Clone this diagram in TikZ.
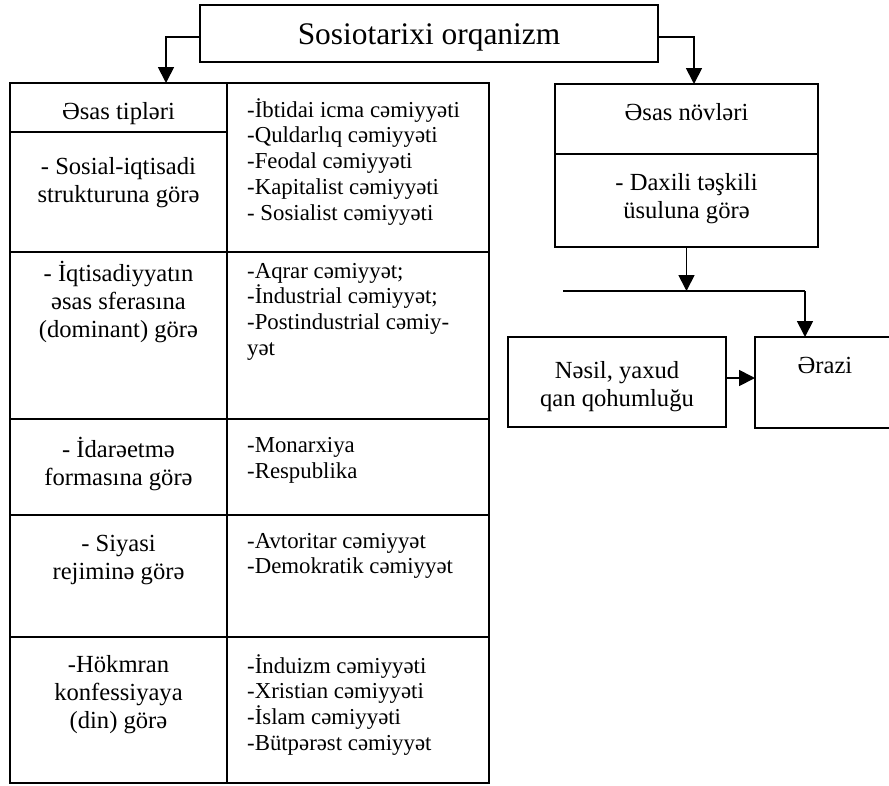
\documentclass[tikz,border=0pt]{standalone}
\usepackage{fontspec}
\setmainfont{Liberation Serif}
\usetikzlibrary{arrows.meta}
\newcommand\fs{\rule{0pt}{0.95em}}
\begin{document}
\begin{tikzpicture}[x=1pt,y=-1pt,
  lw/.style={line width=1.8pt},
  boxnode/.style={draw, lw, inner sep=0pt, outer sep=0pt},
  arr/.style={lw, -{Triangle[length=16pt,width=16pt]}},
  lt/.style={font=\fontsize{24.6}{28}\selectfont, align=center, inner sep=0pt},
  li/.style={font=\fontsize{22.8}{25.7}\selectfont, align=left, inner sep=0pt, anchor=north west},
  tt/.style={font=\fontsize{31.4}{36}\selectfont, inner sep=0pt, anchor=base}]
\path[use as bounding box] (0,0) rectangle (889,785);
\fill[white] (0,0) rectangle (889,785);
\clip (0,0) rectangle (889,785);

% title
\node[boxnode, minimum width=458pt, minimum height=57pt] (title) at (429,33.5) {};
\node[tt] (titletext) at (429,44) {Sosiotarixi orqanizm};

% table
\node[boxnode, minimum width=479pt, minimum height=700pt] (tbl) at (249.5,433) {};
\draw[line width=2.6pt] (227,83) -- (227,783);
\draw[lw] (10,132) -- (227,132);
\foreach \yy in {252,419,515,637} \draw[lw] (10,\yy) -- (489,\yy);

% left column texts
\node[lt, anchor=base] (hdr) at (118.5,119) {Əsas tipləri};
\node[lt, anchor=north] (l1) at (118.5,150.8) {\fs- Sosial-iqtisadi\\strukturuna görə};
\node[lt, anchor=north] (l2) at (118.5,257.5) {\fs- İqtisadiyyatın\\əsas sferasına\\(dominant) görə};
\node[lt, anchor=north] (l3) at (118.5,434) {\fs- İdarəetmə\\formasına görə};
\node[lt, anchor=north] (l4) at (118.5,527.5) {\fs- Siyasi\\rejiminə görə};
\node[lt, anchor=north] (l5) at (118.5,649) {\fs-Hökmran\\konfessiyaya\\(din) görə};

% right column lists
\node[li] (r1) at (247,95.4) {\fs-İbtidai icma cəmiyyəti\\-Quldarlıq cəmiyyəti\\-Feodal cəmiyyəti\\-Kapitalist cəmiyyəti\\- Sosialist cəmiyyəti};
\node[li] (r2) at (247,256.4) {\fs-Aqrar cəmiyyət;\\-İndustrial cəmiyyət;\\-Postindustrial cəmiy-\\yət};
\node[li] (r3) at (247,430.5) {\fs-Monarxiya\\-Respublika};
\node[li] (r4) at (247,526.4) {\fs-Avtoritar cəmiyyət\\-Demokratik cəmiyyət};
\node[li] (r5) at (247,651.4) {\fs-İnduizm cəmiyyəti\\-Xristian cəmiyyəti\\-İslam cəmiyyəti\\-Bütpərəst cəmiyyət};

% right side: Əsas növləri
\node[boxnode, minimum width=263pt, minimum height=163pt] (novler) at (686.5,165.5) {};
\draw[lw] (555,154) -- (818,154);
\node[lt, anchor=base] (novhdr) at (686.5,120) {Əsas növləri};
\node[lt, anchor=north] (novbody) at (686.5,166.8) {\fs- Daxili təşkili\\üsuluna görə};

% lower boxes
\node[boxnode, minimum width=218pt, minimum height=90pt] (nesil) at (617,382) {};
\node[lt, anchor=north] (nesiltext) at (617,355) {\fs Nəsil, yaxud\\qan qohumluğu};
\node[boxnode, minimum width=140pt, minimum height=91pt] (erazi) at (825,382.5) {};
\node[lt, anchor=base] (erazitext) at (825,373) {Ərazi};

% connectors
\coordinate (ta) at (166,37);
\coordinate (tb) at (694,37);
\draw[arr] (title.west |- ta) -| (tbl.north -| ta);
\draw[arr] (title.east |- tb) -| (novler.north -| tb);
\coordinate (hl) at (563,291);
\coordinate (hr) at (805,291);
\draw[arr] (novler.south) -- (novler.south |- hl);
\draw[lw] (hl) -- (hr);
\draw[arr] (hr) -- (erazi.north -| hr);
\draw[arr] (nesil.east |- 0,378) -- (erazi.west |- 0,378);
\end{tikzpicture}
\end{document}
